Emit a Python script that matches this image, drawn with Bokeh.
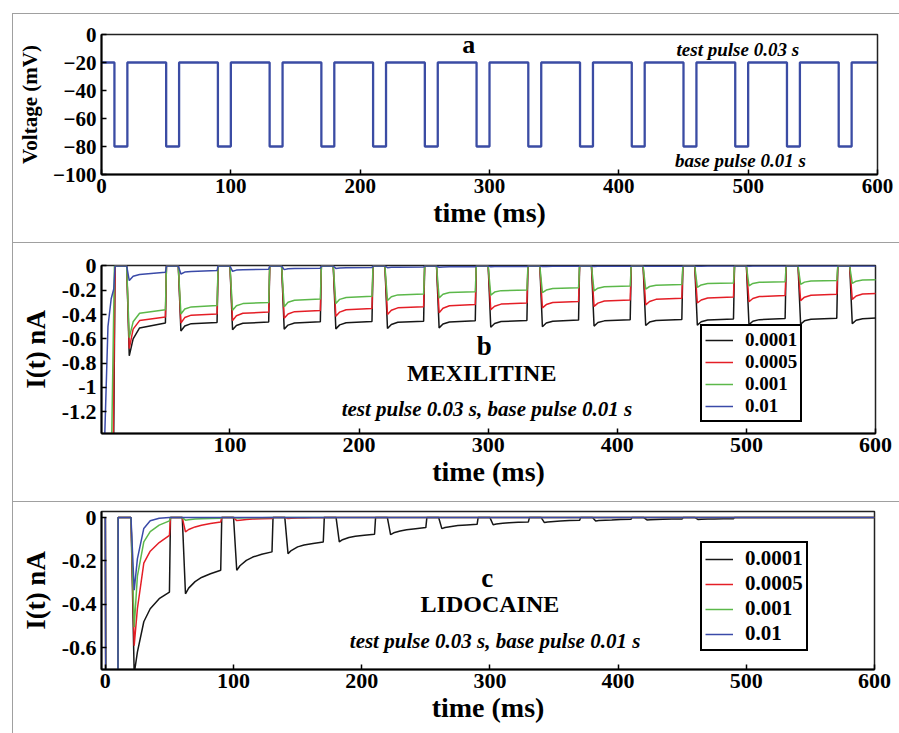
from bokeh.plotting import figure
from bokeh.models import (Range1d, FixedTicker, CustomJSTickFormatter, Label,
                          Legend, LegendItem, Div, Spacer)
from bokeh.layouts import column, row
from bokeh.embed import file_html
from bokeh.resources import INLINE

FONT = "Liberation Serif"

# ------------------------------------------------------------------ data
time_ticks_full = [0, 100, 200, 300, 400, 500, 600]
time_ticks_b = [100, 200, 300, 400, 500, 600]
volt_ticks = [0, -20, -40, -60, -80, -100]
curr_ticks_b = [0, -0.2, -0.4, -0.6, -0.8, -1.0, -1.2]
curr_ticks_c = [0, -0.2, -0.4, -0.6]

test_level = -20
base_level = -80
base_ms = 10
test_ms = 30
base_starts = [10, 50, 90, 130, 170, 210, 250, 290, 330, 370, 410, 450, 490, 530, 570]
test_starts = [20, 60, 100, 140, 180, 220, 260, 300, 340, 380, 420, 460, 500, 540, 580]
trace_end = 600

concentrations = ["0.0001", "0.0005", "0.001", "0.01"]

# panel b (mexilitine): per test pulse [peak, +5 ms, +10 ms, end of pulse]
b_offsets = [2, 5, 10, 30]
b_init_black = ([0, 9.5, 11], [-4.0, -2.0, 0.0])
b_init_red = ([0, 9.0, 11], [-4.0, -2.0, 0.0])
b_init_green = ([0, 8.0, 10.5], [-4.0, -1.7, 0.0])
b_init_blue = ([0, 3, 5.5, 8, 10, 11], [-4.0, -1.4, -0.5, -0.27, -0.19, 0.0])
b_black = [
    [-0.74, -0.60, -0.51, -0.47], [-0.535, -0.495, -0.475, -0.465],
    [-0.525, -0.49, -0.472, -0.462], [-0.52, -0.487, -0.47, -0.46],
    [-0.518, -0.485, -0.467, -0.458], [-0.515, -0.482, -0.464, -0.455],
    [-0.51, -0.478, -0.461, -0.452], [-0.505, -0.474, -0.458, -0.449],
    [-0.50, -0.47, -0.455, -0.446], [-0.495, -0.466, -0.452, -0.443],
    [-0.49, -0.462, -0.449, -0.44], [-0.487, -0.459, -0.445, -0.436],
    [-0.483, -0.455, -0.442, -0.433], [-0.48, -0.452, -0.439, -0.43],
    [-0.475, -0.447, -0.434, -0.425]]
b_red = [
    [-0.68, -0.52, -0.45, -0.42], [-0.47, -0.425, -0.405, -0.395],
    [-0.45, -0.41, -0.39, -0.38], [-0.43, -0.395, -0.376, -0.366],
    [-0.415, -0.38, -0.36, -0.35], [-0.40, -0.365, -0.345, -0.335],
    [-0.385, -0.348, -0.328, -0.318], [-0.36, -0.332, -0.314, -0.305],
    [-0.345, -0.318, -0.301, -0.292], [-0.333, -0.306, -0.289, -0.28],
    [-0.32, -0.293, -0.275, -0.266], [-0.305, -0.28, -0.264, -0.255],
    [-0.295, -0.268, -0.252, -0.243], [-0.285, -0.257, -0.241, -0.232],
    [-0.275, -0.247, -0.231, -0.222]]
b_green = [
    [-0.59, -0.46, -0.39, -0.36], [-0.395, -0.355, -0.337, -0.326],
    [-0.365, -0.328, -0.31, -0.30], [-0.335, -0.298, -0.282, -0.272],
    [-0.31, -0.275, -0.259, -0.25], [-0.285, -0.253, -0.238, -0.23],
    [-0.263, -0.233, -0.219, -0.212], [-0.24, -0.215, -0.203, -0.197],
    [-0.22, -0.198, -0.186, -0.18], [-0.205, -0.183, -0.171, -0.165],
    [-0.19, -0.169, -0.158, -0.153], [-0.176, -0.156, -0.145, -0.14],
    [-0.163, -0.144, -0.134, -0.129], [-0.152, -0.133, -0.123, -0.119],
    [-0.143, -0.125, -0.116, -0.112]]
b_blue = [
    [-0.12, -0.085, -0.07, -0.052], [-0.066, -0.05, -0.045, -0.038],
    [-0.044, -0.034, -0.03, -0.026], [-0.03, -0.023, -0.02, -0.018],
    [-0.02, -0.016, -0.014, -0.012], [-0.014, -0.011, -0.01, -0.009],
    [-0.01, -0.008, -0.007, -0.006], [-0.007, -0.005, -0.005, -0.004],
    [-0.005, -0.004, -0.003, -0.003], [-0.004, -0.003, -0.003, -0.002],
    [-0.003, -0.002, -0.002, -0.002], [-0.002, -0.002, -0.001, -0.001],
    [-0.002, -0.001, -0.001, -0.001], [-0.001, -0.001, -0.001, -0.001],
    [-0.001, -0.001, 0.0, 0.0]]

# panel c (lidocaine): per test pulse [peak, +5, +10, +15, +22, end]
c_offsets = [2.5, 5, 10, 15, 22, 30]
c_init = ([0, 1, 9.5, 10], [0.0, -2.5, -2.5, 0.0])
c_black = [
    [-0.72, -0.62, -0.48, -0.42, -0.374, -0.343],
    [-0.351, -0.325, -0.295, -0.276, -0.259, -0.243],
    [-0.243, -0.222, -0.197, -0.182, -0.169, -0.158],
    [-0.166, -0.152, -0.135, -0.126, -0.119, -0.112],
    [-0.112, -0.102, -0.092, -0.086, -0.081, -0.077],
    [-0.079, -0.07, -0.062, -0.056, -0.051, -0.046],
    [-0.051, -0.046, -0.041, -0.037, -0.034, -0.031],
    [-0.033, -0.03, -0.026, -0.024, -0.022, -0.02],
    [-0.023, -0.02, -0.018, -0.016, -0.014, -0.012],
    [-0.016, -0.014, -0.012, -0.011, -0.009, -0.008],
    [-0.011, -0.01, -0.009, -0.008, -0.007, -0.006],
    [-0.009, -0.008, -0.007, -0.006, -0.005, -0.005]]
c_red = [
    [-0.59, -0.42, -0.21, -0.155, -0.115, -0.082],
    [-0.066, -0.055, -0.043, -0.035, -0.027, -0.02],
    [-0.014, -0.012, -0.009, -0.007, -0.005, -0.004],
    [-0.004, -0.003, -0.002, -0.002, -0.001, -0.001]]
c_green = [
    [-0.505, -0.27, -0.112, -0.065, -0.035, -0.015],
    [-0.012, -0.01, -0.007, -0.005, -0.004, -0.003],
    [-0.002, -0.002, -0.001, -0.001, -0.001, 0.0]]
c_blue = [
    [-0.335, -0.19, -0.05, -0.015, -0.003, 0.0]]

# ------------------------------------------------------------------ style
GREY = "#a0a0a0"
COL_A = "#3b4ca4"
COLORS = ["#161616", "#e41e26", "#5cb84a", "#3a4aa8"]


def build_trace(init, rows, offsets):
    t = list(init[0])
    v = list(init[1])
    for s, vals in zip(test_starts, rows):
        t.append(s)
        v.append(0.0)
        for o, val in zip(offsets, vals):
            t.append(s + o)
            v.append(val)
        t.append(s + test_ms + 0.8)
        v.append(0.0)
    if t[-1] < trace_end:
        t.append(trace_end)
        v.append(0.0)
    return t, v


def style(p, xticks, yticks, tick_size, xlab, ylab, xlab_size, ylab_size, ylab_standoff):
    p.xgrid.visible = False
    p.ygrid.visible = False
    p.outline_line_color = "#222222"
    p.outline_line_width = 1.5
    p.background_fill_color = "white"
    p.border_fill_color = "white"
    for ax in (p.xaxis[0], p.yaxis[0]):
        ax.axis_line_width = 2
        ax.axis_line_color = "black"
        ax.major_tick_in = 5
        ax.major_tick_out = 0
        ax.major_tick_line_width = 1.5
        ax.minor_tick_line_color = None
        ax.major_label_text_font = FONT
        ax.major_label_text_font_style = "bold"
        ax.major_label_text_font_size = tick_size
        ax.major_label_text_color = "black"
        ax.axis_label_text_font = FONT
        ax.axis_label_text_font_style = "bold"
        ax.axis_label_text_color = "black"
    p.xaxis[0].ticker = FixedTicker(ticks=xticks)
    p.yaxis[0].ticker = FixedTicker(ticks=yticks)
    p.xaxis[0].axis_label = xlab
    p.yaxis[0].axis_label = ylab
    p.xaxis[0].axis_label_text_font_size = xlab_size
    p.yaxis[0].axis_label_text_font_size = ylab_size
    p.xaxis[0].major_label_standoff = 4
    p.xaxis[0].axis_label_standoff = 1
    p.yaxis[0].major_label_standoff = 5
    p.yaxis[0].axis_label_standoff = ylab_standoff


def add_label(p, x, y, text, size, style_="bold"):
    p.add_layout(Label(x=x, y=y, text=text, text_font=FONT, text_font_style=style_,
                       text_font_size=size, text_align="center",
                       text_baseline="middle", text_color="black"))


FMT = CustomJSTickFormatter(code="""
const s = tick.toFixed(1);
return s.endsWith('.0') ? s.slice(0, -2) : s;
""")

# ------------------------------------------------------------------ panel a
pa = figure(frame_width=776, frame_height=140, min_border_left=88, min_border_right=22,
            min_border_top=20, min_border_bottom=68,
            x_range=Range1d(0, 600), y_range=Range1d(-100, 0),
            output_backend="svg", toolbar_location=None)
style(pa, time_ticks_full, volt_ticks, "21px", "time (ms)", "Voltage (mV)", "28px", "21px", 8)
va_t = [0]
va_v = [test_level]
for b in base_starts:
    va_t += [b, b, b + base_ms, b + base_ms]
    va_v += [test_level, base_level, base_level, test_level]
va_t.append(trace_end)
va_v.append(test_level)
pa.line(va_t, va_v, line_color=COL_A, line_width=2.3)
add_label(pa, 284, -7, "a", "26px")
add_label(pa, 492, -11, "test pulse 0.03 s", "19px", "bold italic")
add_label(pa, 494, -90, "base pulse 0.01 s", "19px", "bold italic")

# ------------------------------------------------------------------ panel b
pb = figure(frame_width=774, frame_height=168, min_border_left=86, min_border_right=26,
            min_border_top=22, min_border_bottom=68,
            x_range=Range1d(0.5, 600), y_range=Range1d(-1.38, 0.004),
            output_backend="svg", toolbar_location=None)
style(pb, time_ticks_b, curr_ticks_b, "22px", "time (ms)", "I(t) nA", "28px", "27px", 8)
pb.yaxis[0].formatter = FMT
b_rows = [(b_init_black, b_black), (b_init_red, b_red), (b_init_green, b_green), (b_init_blue, b_blue)]
rb = []
for (init, rows), col in zip(b_rows, COLORS):
    t, v = build_trace(init, rows, b_offsets)
    rb.append(pb.line(t, v, line_color=col, line_width=1.5))
add_label(pb, 297, -0.66, "b", "27px")
add_label(pb, 295, -0.88, "MEXILITINE", "24px")
add_label(pb, 299, -1.177, "test pulse 0.03 s, base pulse 0.01 s", "21px", "bold italic")
leg_b = Legend(items=[LegendItem(label=c, renderers=[r]) for c, r in zip(concentrations, rb)],
               location=(599, 11))
pb.add_layout(leg_b)

# ------------------------------------------------------------------ panel c
pc = figure(frame_width=773, frame_height=158, min_border_left=86, min_border_right=27,
            min_border_top=9, min_border_bottom=64,
            x_range=Range1d(-3, 600), y_range=Range1d(-0.70, 0.028),
            output_backend="svg", toolbar_location=None)
style(pc, time_ticks_full, curr_ticks_c, "22px", "time (ms)", "I(t) nA", "28px", "27px", 8)
pc.yaxis[0].formatter = FMT
c_rows = [c_black, c_red, c_green, c_blue]
rc = []
for rows, col in zip(c_rows, COLORS):
    t, v = build_trace(c_init, rows, c_offsets)
    rc.append(pc.line(t, v, line_color=col, line_width=1.5))
add_label(pc, 298, -0.277, "c", "27px")
add_label(pc, 300, -0.397, "LIDOCAINE", "24px")
add_label(pc, 304, -0.568, "test pulse 0.03 s, base pulse 0.01 s", "21px", "bold italic")
leg_c = Legend(items=[LegendItem(label=c, renderers=[r]) for c, r in zip(concentrations, rc)],
               location=(599, 18))
pc.add_layout(leg_c)

for leg, fs, sp in ((leg_b, "19px", -4), (leg_c, "21px", -5)):
    leg.border_line_color = "black"
    leg.border_line_alpha = 1.0
    leg.border_line_width = 2
    leg.background_fill_color = "white"
    leg.background_fill_alpha = 1
    leg.label_text_font = FONT
    leg.label_text_font_style = "bold"
    leg.label_text_font_size = fs
    leg.label_text_color = "black"
    leg.glyph_width = 28
    leg.glyph_height = 18
    leg.label_height = 18
    leg.spacing = sp
    leg.padding = 3
    leg.margin = 0
    leg.label_standoff = 12


def hline(w):
    return Div(text="", width=w, height=1, margin=0, styles={"background-color": GREY})


root = column(
    Spacer(width=899, height=13, margin=0),
    row(Spacer(width=12, height=720, margin=0),
        Div(text="", width=1, height=720, margin=0, styles={"background-color": GREY}),
        column(hline(886), pa, hline(886), pb, hline(886), pc, spacing=0),
        spacing=0),
    spacing=0)

open("out.html", "w").write(file_html(root, INLINE))
